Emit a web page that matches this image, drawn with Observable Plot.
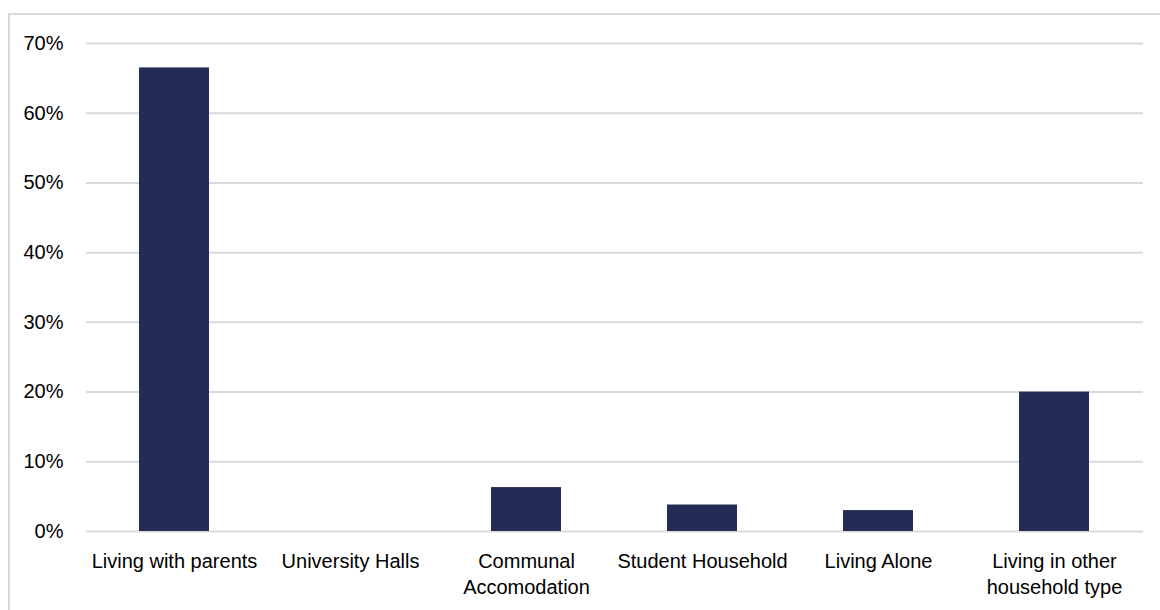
<!DOCTYPE html>
<html>
<head>
<meta charset="utf-8">
<script src="https://cdn.jsdelivr.net/npm/d3@7"></script>
<script src="https://cdn.jsdelivr.net/npm/@observablehq/plot@0.6"></script>
<style>
  html, body { margin: 0; padding: 0; background: #fff; }
  #wrap { position: relative; width: 1160px; height: 610px; overflow: hidden; }
  #frame {
    position: absolute; left: 8px; top: 13px; width: 1200px; height: 700px;
    border-top: 2px solid #d9d9d9; border-left: 2px solid #d9d9d9;
    box-sizing: border-box; pointer-events: none;
  }
  #chart { position: absolute; left: 0; top: 0; }
</style>
</head>
<body>
<div id="wrap">
  <div id="frame"></div>
  <div id="chart"></div>
</div>
<script>
// Living arrangements — share of respondents
const categories = [
  "Living with parents",
  "University Halls",
  "Communal Accomodation",
  "Student Household",
  "Living Alone",
  "Living in other household type"
];
const shares = [0.665, 0, 0.063, 0.038, 0.030, 0.200];
const tickLabels = [
  "Living with parents",
  "University Halls",
  "Communal\nAccomodation",
  "Student Household",
  "Living Alone",
  "Living in other\nhousehold type"
];
const yTicks = [0, 0.1, 0.2, 0.3, 0.4, 0.5, 0.6, 0.7];

const rows = categories.map((c, i) => ({category: c, share: shares[i]}));
const labelOf = new Map(categories.map((c, i) => [c, tickLabels[i]]));

const chart = Plot.plot({
  width: 1160,
  height: 610,
  marginLeft: 86,
  marginRight: 17,
  marginTop: 43,
  marginBottom: 79,
  style: {fontFamily: "'Liberation Sans', Arial, sans-serif", fontSize: "20px", color: "#000", background: "transparent"},
  x: {domain: categories, paddingInner: 0.6, paddingOuter: 0.3, label: null},
  y: {domain: [0, 0.7], label: null},
  marks: [
    Plot.gridY(yTicks, {stroke: "#d9d9d9", strokeOpacity: 1, strokeWidth: 2}),
    Plot.barY(rows, {x: "category", y: "share", fill: "#242c56"}),
    Plot.axisY(yTicks, {
      tickSize: 0, tickPadding: 23, tickFormat: d3.format(".0%"),
      fontSize: 20, label: null
    }),
    Plot.axisX({
      tickSize: 0, tickPadding: 18, tickFormat: d => labelOf.get(d),
      fontSize: 20, lineHeight: 1.3, label: null
    })
  ]
});
document.getElementById("chart").appendChild(chart);
</script>
</body>
</html>
